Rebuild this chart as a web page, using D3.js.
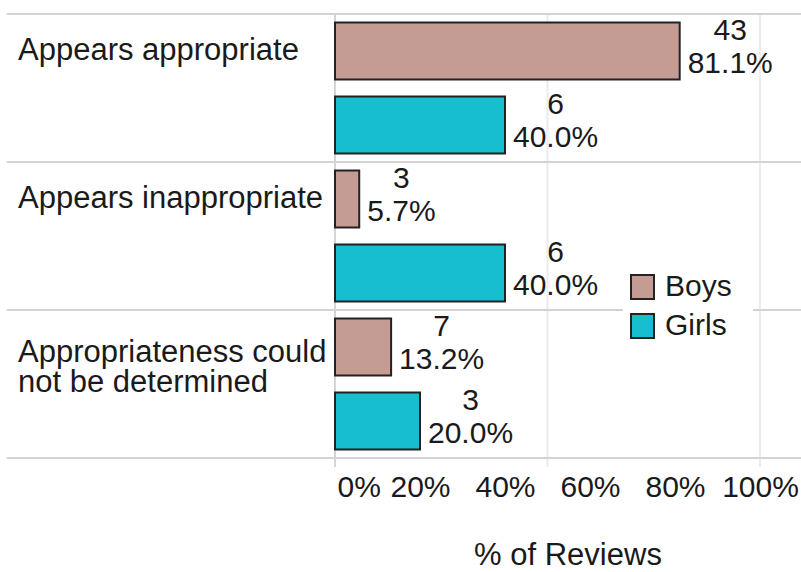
<!DOCTYPE html>
<html>
<head>
<meta charset="utf-8">
<script src="https://cdn.jsdelivr.net/npm/d3@7"></script>
<style>
  html, body { margin: 0; padding: 0; background: #fff; }
  svg { display: block; font-family: "Liberation Sans", Arial, sans-serif; }
</style>
</head>
<body>
<svg id="chart" width="801" height="572"></svg>
<script>
// Review outcomes by appropriateness, split by gender
const categories = [
  ["Appears appropriate"],
  ["Appears inappropriate"],
  ["Appropriateness could", "not be determined"]
];
const seriesNames = ["Boys", "Girls"];
const seriesColors = ["#c49c94", "#17becf"];
const boysCounts = [43, 3, 7];
const boysPercent = [81.1, 5.7, 13.2];
const girlsCounts = [6, 6, 3];
const girlsPercent = [40.0, 40.0, 20.0];
const xTicks = [0, 20, 40, 60, 80, 100];
const xGrid = [50, 100];
const xTitle = "% of Reviews";

const svg = d3.select("#chart");
const W = 801;
const textColor = "#1a1a1a";
const fontSize = 30;
const catFontSize = 31;

const catKeys = categories.map((c, i) => i);
const y = d3.scaleBand().domain(catKeys).range([14, 458]).padding(0);
const ySub = d3.scaleBand().domain(seriesNames)
  .range([0, y.bandwidth()]).paddingInner(0.23).paddingOuter(0.115);
const x = d3.scaleLinear().domain([0, 100]).range([335, 760]);

const rows = catKeys.map(i => [
  { series: "Boys", count: boysCounts[i], pct: boysPercent[i], cat: i },
  { series: "Girls", count: girlsCounts[i], pct: girlsPercent[i], cat: i }
]);
const color = d3.scaleOrdinal().domain(seriesNames).range(seriesColors);

// vertical gridlines
svg.append("g").selectAll("line").data(xGrid).join("line")
  .attr("x1", d => x(d)).attr("x2", d => x(d))
  .attr("y1", y.range()[0]).attr("y2", 467)
  .attr("stroke", "#ececec").attr("stroke-width", 2);

// axis line at zero
svg.append("line")
  .attr("x1", x(0)).attr("x2", x(0))
  .attr("y1", y.range()[0]).attr("y2", 467)
  .attr("stroke", "#d6d6d6").attr("stroke-width", 2);

// row separators
const sepYs = catKeys.map(i => y(i)).concat([y.range()[1]]);
svg.append("g").selectAll("line").data(sepYs).join("line")
  .attr("x1", 7).attr("x2", W)
  .attr("y1", d => d).attr("y2", d => d)
  .attr("stroke", "#d3d3d3").attr("stroke-width", 2);

// category labels
const catG = svg.append("g");
categories.forEach((lines, i) => {
  const t = catG.append("text")
    .attr("x", 18)
    .attr("y", y(i) + 46 + (lines.length - 1) * 6)
    .attr("fill", textColor)
    .attr("font-size", catFontSize);
  lines.forEach((ln, j) => {
    t.append("tspan").attr("x", 18).attr("dy", j === 0 ? 0 : 30).text(ln);
  });
});

// bars
const groups = svg.append("g").selectAll("g").data(rows).join("g")
  .attr("transform", (d, i) => `translate(0,${y(i)})`);

groups.selectAll("rect").data(d => d).join("rect")
  .attr("x", x(0))
  .attr("y", d => ySub(d.series))
  .attr("width", d => x(d.pct) - x(0))
  .attr("height", ySub.bandwidth())
  .attr("fill", d => color(d.series))
  .attr("stroke", "#222")
  .attr("stroke-width", 2);

// value labels: count above percent, block starts just right of bar
groups.selectAll("g.lbl").data(d => d).join("g").attr("class", "lbl")
  .each(function(d) {
    const g = d3.select(this);
    const cy = ySub(d.series) + ySub.bandwidth() / 2;
    const pctText = g.append("text")
      .attr("y", cy + 22)
      .attr("fill", textColor).attr("font-size", fontSize)
      .attr("text-anchor", "middle")
      .text(d.pct.toFixed(1) + "%");
    const w = pctText.node().getComputedTextLength();
    const cx = x(d.pct) + 8 + w / 2;
    pctText.attr("x", cx);
    g.append("text")
      .attr("x", cx).attr("y", cy - 11)
      .attr("fill", textColor).attr("font-size", fontSize)
      .attr("text-anchor", "middle")
      .text(d.count);
  });

// x axis tick labels
const axis = d3.axisBottom(x).tickValues(xTicks).tickFormat(d => d + "%").tickSize(0).tickPadding(0);
const axG = svg.append("g").attr("transform", "translate(0,497)").call(axis);
axG.select(".domain").remove();
axG.selectAll("text")
  .attr("dy", 0).attr("y", 0)
  .attr("fill", textColor)
  .attr("font-size", fontSize)
  .attr("font-family", "Liberation Sans, Arial, sans-serif")
  .attr("text-anchor", d => d === 0 ? "start" : "middle")
  .attr("dx", d => d === 0 ? 2 : 0);

// x axis title
svg.append("text")
  .attr("x", (x(0) + W) / 2).attr("y", 565)
  .attr("text-anchor", "middle")
  .attr("fill", textColor).attr("font-size", catFontSize)
  .text(xTitle);

// legend
const leg = svg.append("g").attr("transform", "translate(623,265)");
leg.append("rect").attr("x", 0).attr("y", 0).attr("width", 130).attr("height", 80).attr("fill", "#fff");
seriesNames.forEach((s, i) => {
  const ly = 10 + i * 39;
  leg.append("rect")
    .attr("x", 8).attr("y", ly)
    .attr("width", 23).attr("height", 24)
    .attr("fill", color(s)).attr("stroke", "#222").attr("stroke-width", 2);
  leg.append("text")
    .attr("x", 42).attr("y", ly + 21)
    .attr("fill", textColor).attr("font-size", fontSize)
    .text(s);
});
</script>
</body>
</html>
